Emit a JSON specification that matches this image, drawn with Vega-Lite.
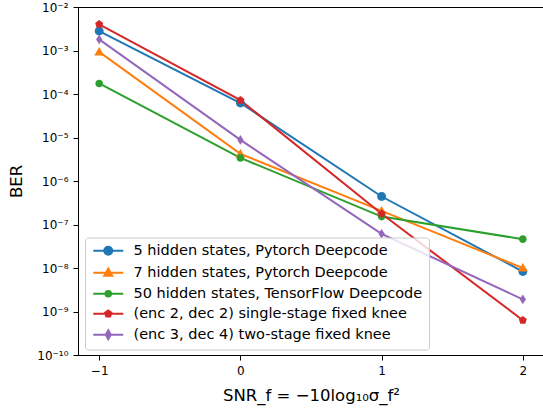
{
  "$schema": "https://vega.github.io/schema/vega-lite/v6.json",
  "autosize": "none",
  "padding": {"left": 78, "top": 7, "right": 0, "bottom": 53},
  "width": 466,
  "height": 348,
  "background": "white",
  "config": {
    "view": {"stroke": "black", "strokeWidth": 1},
    "font": "DejaVu Sans",
    "axis": {
      "domainColor": "black", "tickColor": "black", "tickSize": 5, "grid": false,
      "labelFont": "DejaVu Sans", "labelFontSize": 12, "labelColor": "black",
      "titleFont": "DejaVu Sans", "titleFontSize": 16.5, "titleColor": "black", "titleFontWeight": "normal"
    }
  },
  "data": {"values": [
    {"x": -1, "ber": 0.0028, "series": "5 hidden states, Pytorch Deepcode"},
    {"x": 0, "ber": 0.000062, "series": "5 hidden states, Pytorch Deepcode"},
    {"x": 1, "ber": 4.4e-7, "series": "5 hidden states, Pytorch Deepcode"},
    {"x": 2, "ber": 8.3e-9, "series": "5 hidden states, Pytorch Deepcode"},
    {"x": -1, "ber": 0.00093, "series": "7 hidden states, Pytorch Deepcode"},
    {"x": 0, "ber": 0.0000042, "series": "7 hidden states, Pytorch Deepcode"},
    {"x": 1, "ber": 2.06e-7, "series": "7 hidden states, Pytorch Deepcode"},
    {"x": 2, "ber": 1.0e-8, "series": "7 hidden states, Pytorch Deepcode"},
    {"x": -1, "ber": 0.000175, "series": "50 hidden states, TensorFlow Deepcode"},
    {"x": 0, "ber": 0.0000034, "series": "50 hidden states, TensorFlow Deepcode"},
    {"x": 1, "ber": 1.52e-7, "series": "50 hidden states, TensorFlow Deepcode"},
    {"x": 2, "ber": 4.6e-8, "series": "50 hidden states, TensorFlow Deepcode"},
    {"x": -1, "ber": 0.004, "series": "(enc 2, dec 2) single-stage fixed knee"},
    {"x": 0, "ber": 0.000072, "series": "(enc 2, dec 2) single-stage fixed knee"},
    {"x": 1, "ber": 1.76e-7, "series": "(enc 2, dec 2) single-stage fixed knee"},
    {"x": 2, "ber": 6.3e-10, "series": "(enc 2, dec 2) single-stage fixed knee"},
    {"x": -1, "ber": 0.0018, "series": "(enc 3, dec 4) two-stage fixed knee"},
    {"x": 0, "ber": 0.0000088, "series": "(enc 3, dec 4) two-stage fixed knee"},
    {"x": 1, "ber": 6.1e-8, "series": "(enc 3, dec 4) two-stage fixed knee"},
    {"x": 2, "ber": 1.9e-9, "series": "(enc 3, dec 4) two-stage fixed knee"}
  ]},
  "encoding": {
    "x": {
      "field": "x", "type": "quantitative",
      "scale": {"domain": [-1.15, 2.15], "nice": false, "zero": false},
      "axis": {
        "values": [-1, 0, 1, 2],
        "labelExpr": "datum.value < 0 ? '−' + abs(datum.value) : '' + datum.value",
        "title": "SNR_f = −10log₁₀σ_f²",
        "labelPadding": 5, "titlePadding": 11
      }
    },
    "y": {
      "field": "ber", "type": "quantitative",
      "scale": {"type": "log", "domain": [1e-10, 0.01], "nice": false},
      "axis": {
        "values": [1e-10, 1e-9, 1e-8, 1e-7, 1e-6, 1e-5, 1e-4, 1e-3, 1e-2],
        "labelExpr": "'10⁻' + (abs(round(log(datum.value)/LN10)) >= 10 ? '¹⁰' : substring('⁰¹²³⁴⁵⁶⁷⁸⁹', abs(round(log(datum.value)/LN10)), abs(round(log(datum.value)/LN10)) + 1))",
        "title": "BER",
        "labelPadding": 5, "titlePadding": 12
      }
    }
  },
  "layer": [
    {
      "mark": {"type": "line", "strokeWidth": 2},
      "encoding": {
        "color": {
          "field": "series", "type": "nominal",
          "scale": {
            "domain": ["5 hidden states, Pytorch Deepcode", "7 hidden states, Pytorch Deepcode", "50 hidden states, TensorFlow Deepcode", "(enc 2, dec 2) single-stage fixed knee", "(enc 3, dec 4) two-stage fixed knee"],
            "range": ["#1f77b4", "#ff7f0e", "#2ca02c", "#d62728", "#9467bd"]
          },
          "legend": {
            "orient": "none", "legendX": 7, "legendY": 230.5, "title": null,
            "labelFont": "DejaVu Sans", "labelFontSize": 14.5, "labelColor": "black", "labelLimit": 400,
            "symbolSize": 100, "symbolOffset": 10, "labelOffset": 18,
            "symbolStrokeWidth": 2,
            "rowPadding": 5, "padding": 6,
            "fillColor": "rgba(255,255,255,0.8)", "strokeColor": "#cccccc", "cornerRadius": 3,
            "encode": {
              "symbols": {
                "update": {
                  "shape": {"signal": "datum.value == '5 hidden states, Pytorch Deepcode' ? 'M-3,0L3,0M-0.8,0A0.8,0.8 0 1,0 0.8,0A0.8,0.8 0 1,0 -0.8,0Z' : datum.value == '7 hidden states, Pytorch Deepcode' ? 'M-3,0L3,0M0,-0.85L0.8,0.6L-0.8,0.6Z' : datum.value == '50 hidden states, TensorFlow Deepcode' ? 'M-3,0L3,0M-0.55,0A0.55,0.55 0 1,0 0.55,0A0.55,0.55 0 1,0 -0.55,0Z' : datum.value == '(enc 2, dec 2) single-stage fixed knee' ? 'M-3,0L3,0M0,-0.65L0.62,-0.2L0.38,0.53L-0.38,0.53L-0.62,-0.2Z' : 'M-3,0L3,0M0,-0.9L0.5,0L0,0.9L-0.5,0Z'"},
                  "fill": {"signal": "scale('color', datum.value)"},
                  "stroke": {"signal": "scale('color', datum.value)"},
                  "strokeWidth": {"value": 2},
                  "strokeOpacity": {"value": 1},
                  "opacity": {"value": 1},
                  "fillOpacity": {"value": 1}
                }
              }
            }
          }
        }
      }
    },
    {
      "transform": [{"filter": "datum.series == '5 hidden states, Pytorch Deepcode'"}],
      "mark": {"type": "point", "filled": true, "opacity": 1, "size": 80, "color": "#1f77b4", "shape": "M-1,0A1,1 0 1,0 1,0A1,1 0 1,0 -1,0Z"}
    },
    {
      "transform": [{"filter": "datum.series == '7 hidden states, Pytorch Deepcode'"}],
      "mark": {"type": "point", "filled": true, "opacity": 1, "size": 80, "color": "#ff7f0e", "shape": "M0,-1.1L1.1,0.8L-1.1,0.8Z"}
    },
    {
      "transform": [{"filter": "datum.series == '50 hidden states, TensorFlow Deepcode'"}],
      "mark": {"type": "point", "filled": true, "opacity": 1, "size": 80, "color": "#2ca02c", "shape": "M-0.85,0A0.85,0.85 0 1,0 0.85,0A0.85,0.85 0 1,0 -0.85,0Z"}
    },
    {
      "transform": [{"filter": "datum.series == '(enc 2, dec 2) single-stage fixed knee'"}],
      "mark": {"type": "point", "filled": true, "opacity": 1, "size": 80, "color": "#d62728", "shape": "M0,-0.95L0.9,-0.29L0.56,0.77L-0.56,0.77L-0.9,-0.29Z"}
    },
    {
      "transform": [{"filter": "datum.series == '(enc 3, dec 4) two-stage fixed knee'"}],
      "mark": {"type": "point", "filled": true, "opacity": 1, "size": 80, "color": "#9467bd", "shape": "M0,-1.1L0.7,0L0,1.1L-0.7,0Z"}
    }
  ]
}
